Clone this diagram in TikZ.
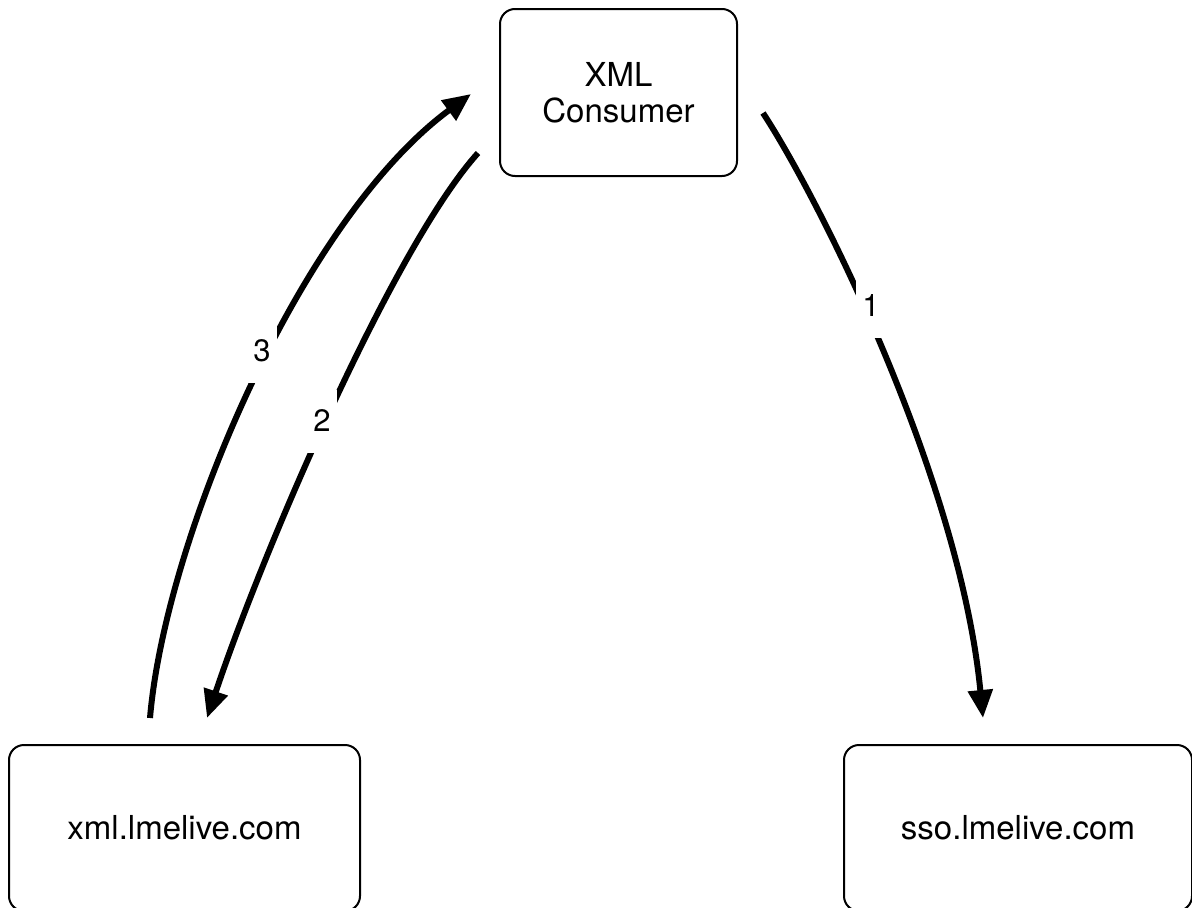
\documentclass[tikz,border=0pt]{standalone}
\usepackage{fontspec}
\setmainfont{TeX Gyre Heros}
\usetikzlibrary{arrows.meta}

\begin{document}
\begin{tikzpicture}[x=1pt,y=-1pt,
	box/.style={draw, line width=2pt, rounded corners=15pt, align=center, font=\fontsize{33}{36}\selectfont},
	flow/.style={line width=6pt, -{Triangle[length=28pt,width=24pt]}},
	lbl/.style={fill=white, minimum width=30pt, minimum height=63pt, inner sep=0pt, font=\fontsize{31}{35}\selectfont}]
	\useasboundingbox (0,0) rectangle (1192,908);

	\node[box, minimum width=237pt, minimum height=167pt] (consumer) at (618.5,92.5) {XML\\Consumer};
	\node[box, minimum width=351pt, minimum height=166pt] (xml) at (184.5,828) {xml.lmelive.com};
	\node[box, minimum width=348pt, minimum height=166pt] (sso) at (1018,828) {sso.lmelive.com};

	% free ends of the connectors
	\coordinate (c1) at (763,113);
	\coordinate (s1) at (983,718);
	\coordinate (c2) at (478,153);
	\coordinate (x2) at (207,718);
	\coordinate (x3) at (150,718);
	\coordinate (c3) at (471,94);

	\draw[flow] (c1) .. controls (820,200) and (960,480) .. (s1);
	\draw[flow] (c2) .. controls (395,245) and (265,545) .. (x2);
	\draw[flow] (x3) .. controls (165,540) and (300,220) .. (c3);

	\node[lbl] (l1) at (871,306) {1};
	\node[lbl] (l2) at (322,421) {2};
	\node[lbl] (l3) at (262,351) {3};
\end{tikzpicture}
\end{document}
